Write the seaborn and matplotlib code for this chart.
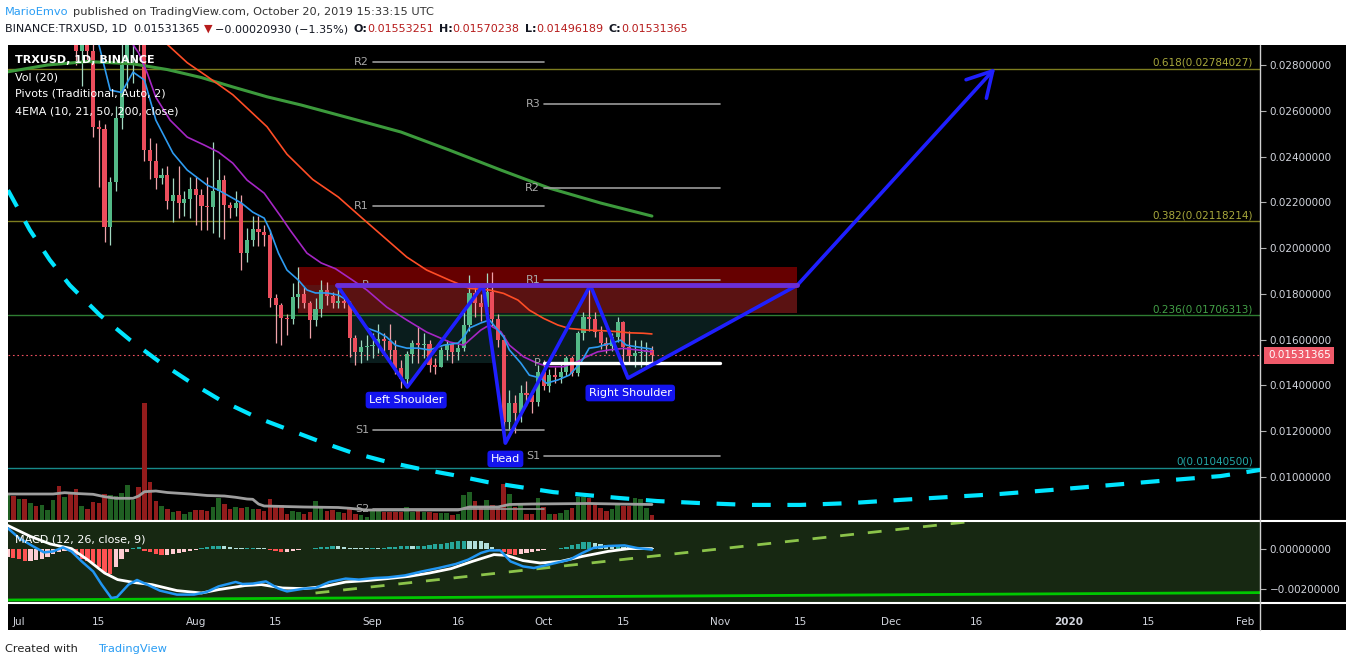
import numpy as np
import matplotlib
matplotlib.use("Agg")
import matplotlib.pyplot as plt
import matplotlib.transforms as mtransforms
from matplotlib.patches import Rectangle, Polygon
from matplotlib.lines import Line2D
from matplotlib.ticker import FuncFormatter
import seaborn as sns

W, H = 1346, 667

# day 0 = 1 Jul 2019, bars run from 29 Jun (day -2) to 20 Oct (day 111)
first_open = 0.0322
close = [0.0333, 0.0320, 0.0326, 0.0318, 0.0330, 0.0322, 0.0328, 0.0331, 0.0336, 0.0315,
         0.0322, 0.0305, 0.0286, 0.0296, 0.0286, 0.02528, 0.02520, 0.02092, 0.02288, 0.02568,
         0.0280, 0.0295, 0.0300, 0.0294, 0.02428, 0.02380, 0.02307, 0.02320, 0.02205, 0.02232,
         0.02197, 0.02214, 0.02258, 0.02232, 0.02185, 0.02180, 0.02249, 0.02297, 0.02188, 0.02175,
         0.02198, 0.01978, 0.02035, 0.02083, 0.02070, 0.02057, 0.01782, 0.01751, 0.01695, 0.01690,
         0.01787, 0.01799, 0.01761, 0.01686, 0.01732, 0.01815, 0.01792, 0.01758, 0.01770, 0.01761,
         0.01607, 0.01547, 0.01569, 0.01572, 0.01575, 0.01603, 0.01595, 0.01555, 0.01476, 0.01428,
         0.01537, 0.01585, 0.01578, 0.01580, 0.01489, 0.01482, 0.01555, 0.01580, 0.01547, 0.01563,
         0.01664, 0.01804, 0.01761, 0.01744, 0.01809, 0.01690, 0.01598, 0.01240, 0.01323, 0.01280,
         0.01368, 0.01360, 0.01329, 0.01457, 0.01397, 0.01445, 0.01435, 0.01460, 0.01518, 0.01453,
         0.01627, 0.01697, 0.01690, 0.01634, 0.01584, 0.01572, 0.01610, 0.01678, 0.01566, 0.01528,
         0.01540, 0.01545, 0.01553251, 0.01531365]
high = [0.0345, 0.0336, 0.0331, 0.0329, 0.0336, 0.0333, 0.0334, 0.0336, 0.0342, 0.0338,
        0.0326, 0.0326, 0.0308, 0.0300, 0.0300, 0.0290, 0.0256, 0.0254, 0.0231, 0.0262,
        0.0293, 0.0305, 0.0306, 0.0303, 0.0297, 0.0248, 0.0246, 0.0235, 0.0236, 0.02306,
        0.0236, 0.0225, 0.02311, 0.0231, 0.0226, 0.0231, 0.02464, 0.0239, 0.0232, 0.0220,
        0.0225, 0.02232, 0.02088, 0.0214, 0.0214, 0.0210, 0.0208, 0.0180, 0.0176, 0.0171,
        0.01847, 0.01917, 0.0183, 0.0177, 0.0178, 0.0186, 0.0185, 0.0181, 0.0183, 0.0178,
        0.0177, 0.0162, 0.0160, 0.0162, 0.0163, 0.0167, 0.0163, 0.0167, 0.0160, 0.0151,
        0.0155, 0.0160, 0.0166, 0.0163, 0.0160, 0.0152, 0.0157, 0.0160, 0.0159, 0.0158,
        0.0172, 0.01882, 0.0183, 0.0180, 0.01891, 0.01896, 0.0171, 0.0162, 0.0138, 0.0136,
        0.0140, 0.0142, 0.0138, 0.0149, 0.0151, 0.0147, 0.0148, 0.0150, 0.0153, 0.0153,
        0.0164, 0.0172, 0.01830, 0.0172, 0.0166, 0.0161, 0.0163, 0.0170, 0.0168, 0.0164,
        0.0160, 0.0160, 0.0159, 0.01570238]
low = [0.0318, 0.0312, 0.0309, 0.0305, 0.0314, 0.0316, 0.0318, 0.0322, 0.0326, 0.0305,
       0.0309, 0.0298, 0.0280, 0.0271, 0.0282, 0.02485, 0.02266, 0.02026, 0.02013, 0.0225,
       0.0252, 0.0270, 0.0272, 0.0286, 0.0238, 0.0230, 0.0226, 0.0228, 0.0217, 0.02114,
       0.0213, 0.0214, 0.0213, 0.0210, 0.0208, 0.0208, 0.02066, 0.0205, 0.0204, 0.0213,
       0.0214, 0.01904, 0.0194, 0.0201, 0.0201, 0.0201, 0.01744, 0.01585, 0.01576, 0.0162,
       0.0167, 0.0174, 0.0174, 0.01607, 0.0166, 0.0170, 0.0175, 0.0174, 0.0174, 0.0174,
       0.01525, 0.01489, 0.0150, 0.0151, 0.0152, 0.0154, 0.0154, 0.0151, 0.0145, 0.01389,
       0.0140, 0.0150, 0.0150, 0.0152, 0.0146, 0.0145, 0.0148, 0.0151, 0.0150, 0.0151,
       0.0155, 0.0164, 0.0170, 0.0168, 0.0170, 0.0166, 0.0157, 0.01148, 0.01205, 0.01192,
       0.0124, 0.0131, 0.0128, 0.0131, 0.0138, 0.0137, 0.0141, 0.0141, 0.0144, 0.0144,
       0.0144, 0.0160, 0.0164, 0.0161, 0.0156, 0.0154, 0.0155, 0.0159, 0.0150, 0.0150,
       0.0148, 0.0148, 0.0149, 0.01496189]
volume = [260, 250, 220, 217, 177, 150, 160, 107, 210, 350,
          240, 267, 317, 150, 117, 187, 180, 267, 260, 250,
          280, 360, 210, 340, 1177, 387, 200, 150, 117, 90,
          100, 70, 90, 110, 110, 100, 140, 230, 170, 120,
          140, 130, 140, 120, 120, 100, 220, 160, 160, 70,
          100, 90, 70, 90, 200, 140, 100, 110, 90, 77,
          117, 70, 60, 40, 110, 100, 93, 90, 93, 93,
          137, 93, 100, 93, 93, 77, 77, 83, 60, 70,
          260, 287, 200, 137, 210, 157, 137, 370, 270, 137,
          160, 67, 67, 227, 137, 67, 67, 77, 110, 127,
          243, 243, 233, 157, 127, 103, 117, 177, 150, 150,
          227, 217, 133, 57]
vol_ma_day = [-2, 6, 8, 10, 13, 15, 17, 20, 21, 22, 24, 26, 30, 33, 36, 38, 40, 41, 42, 43,
              50, 56, 58, 61, 77, 79, 84, 86, 90, 100, 105, 111]
vol_ma = [270, 270, 283, 275, 267, 243, 227, 227, 250, 293, 300, 285, 270, 255, 250, 237, 220, 217, 170, 150,
          140, 135, 127, 110, 110, 140, 140, 165, 170, 175, 170, 165]

ema10_day = [-2, 5, 10, 13, 14, 16, 18, 20, 22, 24, 27, 29.5, 33, 35, 39, 41, 43, 44, 45.5, 47,
             49, 50.5, 52, 54, 56, 57.5, 59, 61, 63, 64.5, 66, 68, 70, 72, 74.5, 77, 78, 79, 81, 82.5,
             84, 85, 86, 88, 89.5, 91.5, 92.5, 94.5, 96.5, 98.5, 100, 101.5, 102.5, 104, 105.5, 106.5, 108.5, 111]
ema10 = [0.0325, 0.0324, 0.0310, 0.0296, 0.0289, 0.0269, 0.0268, 0.02769, 0.02734, 0.02559,
         0.02415, 0.02341, 0.02275, 0.02253, 0.02197, 0.02157, 0.02131, 0.02079, 0.01978, 0.01904,
         0.01860, 0.01817, 0.01804, 0.01804, 0.01795, 0.01773, 0.01716, 0.01651, 0.01633, 0.01611,
         0.01576, 0.01563, 0.01563, 0.01555, 0.01576, 0.01585, 0.01611, 0.01651, 0.01673, 0.01686,
         0.01642, 0.01611, 0.01555, 0.01498, 0.01445, 0.01432, 0.01410, 0.01424, 0.01445, 0.01498,
         0.01563, 0.01568, 0.01576, 0.01585, 0.01598, 0.01576, 0.01568, 0.01559]
ema21_day = [-2, 10, 17, 21, 22.5, 24, 26.5, 29.5, 32.5, 35, 37.5, 40, 43, 46, 47.5, 50.5, 53, 55.5, 58.5, 61,
             64.5, 68, 71.5, 75.5, 78, 81, 82.5, 84.5, 86, 88.5, 91, 93, 95.5, 98, 99.5, 101.5, 103.5, 106, 108.5, 111]
ema21 = [0.0345, 0.0330, 0.0300, 0.02852, 0.02764, 0.02659, 0.02559, 0.02485, 0.02450, 0.02419,
         0.02371, 0.02297, 0.02240, 0.02135, 0.02080, 0.01978, 0.01935, 0.01910, 0.01860, 0.01817,
         0.01742, 0.01686, 0.01633, 0.01590, 0.01576, 0.01642, 0.01664, 0.01635, 0.01576, 0.01525,
         0.01496, 0.01482, 0.01482, 0.01504, 0.01525, 0.01547, 0.01555, 0.01562, 0.01555, 0.01547]
ema50_day = [-2, 15, 26, 29.5, 33, 37.5, 43.5, 47, 51.5, 56, 60, 64, 68, 71.5, 75.5, 79, 82.5, 85, 87.5, 89.5,
             92, 94.5, 96.5, 99.5, 102.5, 105, 107, 109.5, 111]
ema50 = [0.0365, 0.0320, 0.0289, 0.0281, 0.0275, 0.0267, 0.0253, 0.0241, 0.0230, 0.02223,
         0.02135, 0.02048, 0.01961, 0.01904, 0.01860, 0.01824, 0.01817, 0.01802, 0.01773, 0.01729,
         0.01693, 0.01664, 0.01649, 0.01642, 0.01639, 0.01635, 0.01630, 0.01628, 0.01625]
ema200_day = [-2, 5, 12, 20, 26, 32, 37.5, 43.5, 49.5, 58, 67, 75.5, 84.5, 93, 102, 111]
ema200 = [0.02770, 0.02800, 0.02815, 0.02805, 0.02780, 0.02745, 0.02704, 0.02661, 0.02625, 0.02568,
          0.02507, 0.02428, 0.02341, 0.02262, 0.02197, 0.02140]

# MACD histogram in units of 1e-5
macd_hist = [-42, -45, -52, -58, -58, -55, -50, -38, -25, -17,
             -8, -12, -28, -50, -62, -72, -92, -117, -125, -92,
             -50, -17, 5, 8, -8, -17, -25, -28, -28, -25,
             -22, -17, -8, -5, 5, 8, 13, 17, 13, 8,
             5, 3, 5, 7, 7, 3, -5, -8, -17, -15,
             -8, -3, -2, 2, 5, 8, 12, 13, 13, 8,
             5, 3, 3, 3, 5, 5, 7, 8, 12, 13,
             15, 13, 15, 17, 20, 23, 27, 30, 33, 38,
             42, 42, 42, 38, 30, 12, -8, -17, -25, -28,
             -25, -22, -15, -8, -3, -2, 2, 5, 12, 18,
             25, 33, 35, 30, 25, 18, 13, 17, 12, 8,
             7, 5, 5, 3]
macd_day = [-2, 0, 2.5, 4.4, 6, 7.7, 9.2, 11, 13, 14.5, 16.2, 17.2, 19.2, 20.7, 22.5, 24.7, 27.7, 30.7, 32.9, 35,
            38, 39.2, 41, 43.3, 45.5, 47, 50, 52, 54.4, 57.3, 59.6, 62.5, 64.7, 67.7, 70.7, 73.6, 76.6, 78.8, 81, 82.5,
            84.4, 86.2, 88.4, 90.3, 92.9, 96.6, 98.8, 100.7, 103.3, 106.2, 108.4, 111]
macd_line = [0.00105, 0.00055, 0.00013, -0.00017, -0.00012, 0.00008, -0.00012, -0.00062, -0.00112, -0.00178,
             -0.00245, -0.00240, -0.00178, -0.00155, -0.00178, -0.00208, -0.00228, -0.00228, -0.00215, -0.00187,
             -0.00165, -0.00175, -0.00173, -0.00162, -0.00198, -0.00212, -0.00198, -0.00195, -0.00165, -0.00148,
             -0.00153, -0.00145, -0.00142, -0.00132, -0.00112, -0.00095, -0.00075, -0.00053, -0.00020, -0.00007,
             -0.00007, -0.00062, -0.00087, -0.00095, -0.00078, -0.00053, -0.00020, 0.00005, 0.00015, 0.00018,
             0.00005, -0.00003]
signal_day = [-2, 2, 5.5, 9.2, 12, 15, 17.3, 20.3, 23.3, 27.7, 32, 35, 39.6, 42.5, 46.2, 50, 53.6, 57.3, 61, 64.7,
              68.4, 72, 75.8, 79.5, 83.3, 85.5, 88.4, 91.4, 95, 98.8, 103.3, 107, 111]
signal_line = [0.00118, 0.00063, 0.00025, 0.00002, -0.00053, -0.00120, -0.00153, -0.00168, -0.00178, -0.00208,
               -0.00220, -0.00203, -0.00183, -0.00178, -0.00195, -0.00198, -0.00187, -0.00165, -0.00158, -0.00148,
               -0.00137, -0.00120, -0.00098, -0.00062, -0.00028, -0.00032, -0.00058, -0.00070, -0.00062, -0.00037,
               -0.00012, 0.00002, 0.00002]
macd_trend_day = [52, 170]
macd_trend = [-0.0022, 0.00147]
macd_floor_day = [-2, 218]
macd_floor = [-0.00255, -0.00218]

# hand-drawn dashed arc
curve_day = [-1.93, 1.9, 5.4, 8.9, 14.2, 19.5, 24.7, 30, 35.3, 41.9, 47.5, 53, 58.1, 64.6, 70.4, 76.1, 82.1,
             87.9, 93.7, 99.6, 105.4, 111.9, 119.5, 128.2, 137, 145.8, 154.6, 163.3, 172.1, 180.9, 189.6,
             200.2, 210.7, 217.7]
curve = [0.02253, 0.02079, 0.01948, 0.01838, 0.01707, 0.01598, 0.01502, 0.01415, 0.01336, 0.01258,
         0.01205, 0.01153, 0.01109, 0.01066, 0.01035, 0.01009, 0.00978, 0.00956, 0.00934, 0.00921,
         0.00908, 0.00895, 0.00886, 0.00878, 0.00878, 0.00886, 0.00900, 0.00913, 0.00926, 0.00943,
         0.00961, 0.00983, 0.01004, 0.01031]

fib_names = ["0.618", "0.382", "0.236", "0"]
fib_levels = [0.02784027, 0.02118214, 0.01706313, 0.01040500]
fib_line_col = ["#7d7d1f", "#7d7d1f", "#2e7d32", "#178a8a"]
fib_text_col = ["#a8a83c", "#a8a83c", "#43a047", "#22a8a8"]

sep_names = ["R2", "R1", "P", "S1", "S2"]
sep_pivots = [0.02813, 0.02184, 0.01838, 0.01205, 0.00860]
oct_names = ["R3", "R2", "R1", "P", "S1"]
oct_pivots = [0.02629, 0.02262, 0.01860, 0.01498, 0.01092]
sep_start, oct_start, nov_start = 62, 92, 123

hs_day = [55.8, 68.1, 81.4, 85.3, 100.2, 106.8, 136.5]
hs_price = [0.01838, 0.01393, 0.01838, 0.01148, 0.01838, 0.01432, 0.01838]
target_day, target_price = 171.2, 0.02786
zone_day = [48.9, 136.5]
zone_top, zone_mid, zone_bot = 0.01917, 0.01838, 0.01716
band_day = [58, 112]
band_bot = 0.01498
last_price = 0.01531365

tick_day = [0, 14, 31, 45, 62, 77, 92, 106, 123, 137, 153, 168, 184, 198, 215]
tick_lab = ["Jul", "15", "Aug", "15", "Sep", "16", "Oct", "15", "Nov", "15", "Dec", "16", "2020", "15", "Feb"]

# ---------------------------------------------------------------
sns.set_theme(style="dark")
plt.rcParams["font.family"] = ["DejaVu Sans"]

days = np.arange(-2, 112)
c = np.array(close)
o = np.array([first_open] + close[:-1])
up = c >= o


def fx(px):
    return px / W


def fy(py):
    return 1 - py / H


fig = plt.figure(figsize=(W / 100, H / 100), dpi=100, facecolor="white")

bg = fig.add_axes([fx(8), fy(630), 1 - fx(8), fy(45) - fy(630)])
bg.set_facecolor("black")
bg.set_xticks([])
bg.set_yticks([])

ax = fig.add_axes([fx(8), fy(521), fx(1260) - fx(8), fy(45) - fy(521)])
axm = fig.add_axes([fx(8), fy(603), fx(1260) - fx(8), fy(521) - fy(603)], sharex=ax)
ax.set_facecolor("black")
axm.set_facecolor("#172812")
for a in (bg, ax, axm):
    for s in a.spines.values():
        s.set_visible(False)

# zones of the pattern
for i in range(3):
    tri = [(hs_day[2 * i + k], hs_price[2 * i + k]) for k in range(3)]
    ax.add_patch(Polygon(tri, closed=True, fc="#0a1d1d", ec="none", zorder=0.5))
ax.add_patch(Rectangle((band_day[0], band_bot), band_day[1] - band_day[0], zone_bot - band_bot,
                       fc="#0a1d1d", ec="none", zorder=0.5))
ax.add_patch(Rectangle((zone_day[0], zone_mid), zone_day[1] - zone_day[0], zone_top - zone_mid,
                       fc="#660000", ec="none", zorder=0.8))
ax.add_patch(Rectangle((zone_day[0], zone_bot), zone_day[1] - zone_day[0], zone_mid - zone_bot,
                       fc="#5a1212", ec="none", zorder=0.8))

# fibonacci levels
yblend = mtransforms.blended_transform_factory(ax.transAxes, ax.transData)
for name, lev, lc, tc in zip(fib_names, fib_levels, fib_line_col, fib_text_col):
    ax.axhline(lev, color=lc, lw=1, zorder=1.5)
    ax.text(0.9944, lev + 0.00004, f"{name}({lev:.8f})", transform=yblend, ha="right", va="bottom",
            color=tc, fontsize=7.5, zorder=1.6)
ax.axhline(last_price, color="#f05060", lw=0.8, ls=(0, (1.5, 2.5)), zorder=1.5)

# volume
vtrans = mtransforms.blended_transform_factory(ax.transData, ax.transAxes)
vol_top = 4760
ax.bar(days, np.array(volume) / vol_top, width=0.8, bottom=0, transform=vtrans,
       color=np.where(up, "#1f5f22", "#921c1c"), linewidth=0, zorder=2)
ax.plot(vol_ma_day, np.array(vol_ma) / vol_top, transform=vtrans, color="#9e9e9e", lw=2, zorder=2.2)

# dashed arc
sns.lineplot(x=curve_day, y=curve, ax=ax, color="#00e5ff", linewidth=3, sort=False, estimator=None, zorder=2.5)
ax.lines[-1].set_dashes((4.5, 4))

# candles
ax.vlines(days, low, high, colors=np.where(up, "#a3d9c2", "#f0a3aa"), lw=0.9, zorder=3)
ax.bar(days, np.maximum(np.abs(c - o), 0.00005), bottom=np.minimum(o, c), width=0.72,
       color=np.where(up, "#53b987", "#eb4d5c"), linewidth=0, zorder=4)

# EMAs
for dd, vv, col, lw in [(ema200_day, ema200, "#3c9a3c", 2.2), (ema50_day, ema50, "#ff4d26", 1.2),
                        (ema21_day, ema21, "#a526c4", 1.2), (ema10_day, ema10, "#2e9bf0", 1.2)]:
    sns.lineplot(x=dd, y=vv, ax=ax, color=col, linewidth=lw, sort=False, estimator=None, zorder=5)

# pivots
for names, levels, d0, d1 in [(sep_names, sep_pivots, sep_start, oct_start),
                              (oct_names, oct_pivots, oct_start, nov_start)]:
    for nm, lev in zip(names, levels):
        thick = (d0 == oct_start and nm == "P")
        ax.plot([d0, d1], [lev, lev], color="white" if thick else "#9a9a9a", lw=2.4 if thick else 1.2, zorder=5.5)
        ax.text(d0 - 0.6, lev, nm, color="#a8a8a8", fontsize=8, ha="right", va="center", zorder=5.5)

# head & shoulders
sns.lineplot(x=hs_day, y=hs_price, ax=ax, color="#1f1fff", linewidth=2.6, sort=False, estimator=None, zorder=6)
ax.plot([hs_day[0], hs_day[-1]], [hs_price[0], hs_price[-1]], color="#6a2fd6", lw=3.5, zorder=6.5)
ax.annotate("", xy=(target_day, target_price), xytext=(hs_day[-1], hs_price[-1]),
            arrowprops=dict(arrowstyle="->,head_length=0.8,head_width=0.45", color="#1f1fff", lw=2.6,
                            shrinkA=0, shrinkB=0, mutation_scale=22), zorder=6)
box = dict(boxstyle="round,pad=0.3", fc="#1414ee", ec="none")
ax.text(67.9, 0.01336, "Left Shoulder", color="white", fontsize=8, ha="center", va="center", bbox=box, zorder=7)
ax.text(85.3, 0.01079, "Head", color="white", fontsize=8, ha="center", va="center", bbox=box, zorder=7)
ax.text(107.2, 0.01367, "Right Shoulder", color="white", fontsize=8, ha="center", va="center", bbox=box, zorder=7)

# current price tag
ax.text(1.0064, last_price, f"{last_price:.8f}", transform=yblend, color="white", fontsize=7.5,
        ha="left", va="center", bbox=dict(boxstyle="square,pad=0.35", fc="#ef5a6a", ec="none"))

# MACD pane
h = np.array(macd_hist) * 1e-5
prev = np.r_[h[0], h[:-1]]
hcol = np.where(h >= 0, np.where(h > prev, "#26a69a", "#b2dfdb"), np.where(h < prev, "#ff5252", "#ffcdd2"))
axm.bar(days, h, width=0.75, color=hcol, linewidth=0, zorder=2)
sns.lineplot(x=macd_floor_day, y=macd_floor, ax=axm, color="#00c800", linewidth=2, sort=False, estimator=None, zorder=2)
sns.lineplot(x=macd_trend_day, y=macd_trend, ax=axm, color="#8bc34a", linewidth=2, sort=False, estimator=None, zorder=2)
axm.lines[-1].set_dashes((5, 5))
sns.lineplot(x=signal_day, y=signal_line, ax=axm, color="white", linewidth=2, sort=False, estimator=None, zorder=3)
sns.lineplot(x=macd_day, y=macd_line, ax=axm, color="#2196f3", linewidth=1.8, sort=False, estimator=None, zorder=4)

# scales and axes
ax.set_xlim((8 - 19) / 5.702, (1260 - 19) / 5.702)
ax.set_ylim(0.008078, 0.028873)
axm.set_ylim(-0.0027, 0.0014)
fmt = FuncFormatter(lambda v, p: f"{v:.8f}".replace("-", "\u2212"))
ax.yaxis.tick_right()
axm.yaxis.tick_right()
ax.set_yticks([0.010, 0.012, 0.014, 0.016, 0.018, 0.020, 0.022, 0.024, 0.026, 0.028])
axm.set_yticks([0.0, -0.002])
ax.yaxis.set_major_formatter(fmt)
axm.yaxis.set_major_formatter(fmt)
for a in (ax, axm):
    a.tick_params(axis="y", color="#b0b0b0", labelcolor="#d1d4dc", labelsize=7.5, length=4, width=0.8, pad=3)
    a.set_xlabel("")
    a.set_ylabel("")
    a.grid(False)
ax.tick_params(axis="x", bottom=False, labelbottom=False)
axm.set_xticks(tick_day)
axm.set_xticklabels(tick_lab)
axm.tick_params(axis="x", color="#b0b0b0", labelcolor="#d1d4dc", labelsize=7.5, length=4, width=0.8, pad=6)
axm.get_xticklabels()[12].set_fontweight("bold")

# pane separators
for yy in (521, 603):
    fig.add_artist(Line2D([fx(8), 1], [fy(yy), fy(yy)], color="white", lw=1.5))
fig.add_artist(Line2D([fx(1260), fx(1260)], [fy(45), fy(630)], color="#d0d0d0", lw=1))

# legends
fig.text(fx(15), fy(60), "TRXUSD, 1D, BINANCE", color="white", fontsize=8, fontweight="bold", va="center")
for yy, s in [(77, "Vol (20)"), (94, "Pivots (Traditional, Auto, 2)"), (111, "4EMA (10, 21, 50, 200, close)")]:
    fig.text(fx(15), fy(yy), s, color="white", fontsize=8, va="center")
fig.text(fx(15), fy(539), "MACD (12, 26, close, 9)", color="white", fontsize=8, va="center")

# header / footer text runs
renderer = fig.canvas.get_renderer()


def put_runs(x_px, y_px, runs, size):
    x = x_px
    for s, col, wt, gap in runs:
        t = fig.text(x / W, fy(y_px), s, color=col, fontsize=size, fontweight=wt, va="center", ha="left")
        x = t.get_window_extent(renderer).x1 + gap


dark, red = "#131722", "#b71c1c"
put_runs(5, 12, [("MarioEmvo", "#2a9df4", "normal", 4),
                 ("published on TradingView.com, October 20, 2019 15:33:15 UTC", "#333333", "normal", 0)], 8.2)
put_runs(5, 29, [("BINANCE:TRXUSD, 1D", dark, "normal", 6), ("0.01531365", dark, "normal", 4),
                 ("\u25bc", red, "normal", 3), ("\u22120.00020930 (\u22121.35%)", dark, "normal", 5),
                 ("O:", dark, "bold", 0), ("0.01553251", red, "normal", 5),
                 ("H:", dark, "bold", 0), ("0.01570238", red, "normal", 5),
                 ("L:", dark, "bold", 0), ("0.01496189", red, "normal", 5),
                 ("C:", dark, "bold", 0), ("0.01531365", red, "normal", 0)], 8.0)
put_runs(5, 649, [("Created with", "#222222", "normal", 20), ("TradingView", "#2a9df4", "normal", 0)], 8.2)

fig.savefig("out.png", dpi=100, facecolor="white")
